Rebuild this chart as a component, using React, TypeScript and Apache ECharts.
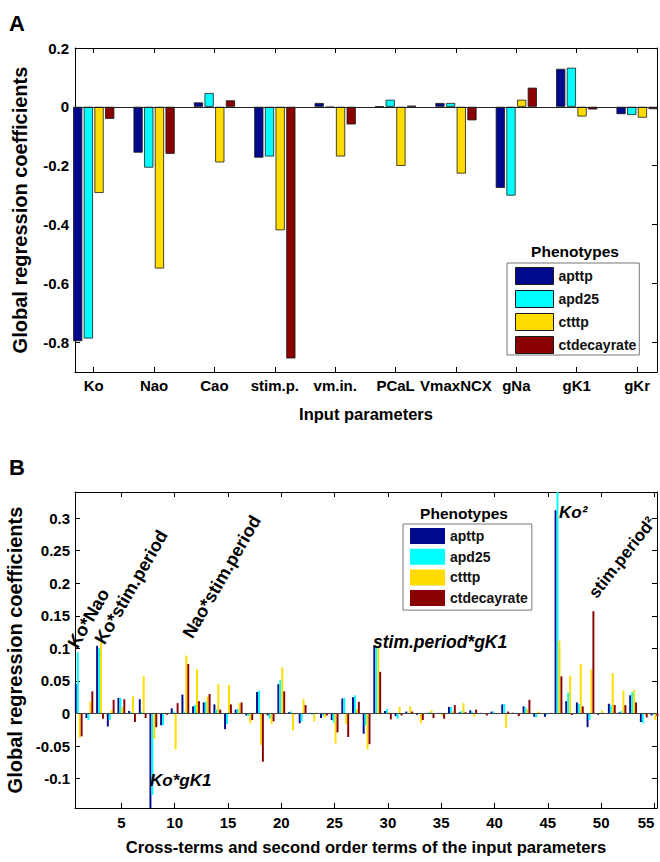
import React, { useEffect, useRef } from 'react';
import * as echarts from 'echarts';

const FONT = '"Liberation Sans", Arial, Helvetica, sans-serif';

// ---------- Panel A data ----------
const catsA = ['Ko', 'Nao', 'Cao', 'stim.p.', 'vm.in.', 'PCaL', 'VmaxNCX', 'gNa', 'gK1', 'gKr'];
const aApttp = [-0.797, -0.156, 0.015, -0.173, 0.013, 0.001, 0.013, -0.276, 0.129, -0.025];
const aApd25 = [-0.788, -0.207, 0.047, -0.169, -0.002, 0.024, 0.013, -0.302, 0.133, -0.028];
const aCtttp = [-0.293, -0.55, -0.189, -0.42, -0.169, -0.201, -0.227, 0.024, -0.033, -0.037];
const aCtdecay = [-0.041, -0.16, 0.022, -0.856, -0.06, 0.004, -0.046, 0.065, -0.009, -0.008];
const yTicksA = [-0.8, -0.6, -0.4, -0.2, 0, 0.2];

// ---------- Panel B data (terms 1..55) ----------
const bApttp = [
  0.045, -0.007, 0.104, -0.02, 0.024, 0.004, 0.022, -0.16, -0.018, 0.008,
  0.029, 0.011, 0.017, 0.014, -0.024, 0.006, -0.003, 0.033, -0.003, 0.045,
  0.002, -0.015, 0.001, -0.007, -0.01, 0.023, 0.025, -0.031, 0.104, 0.004,
  -0.004, 0.003, -0.002, 0.001, 0.001, 0.01, 0.002, 0.005, 0.001, 0.003,
  0.014, 0.001, 0.011, -0.005, -0.005, 0.312, 0.019, 0.017, -0.021, -0.002,
  0.015, 0.002, 0.028, -0.013, -0.003,
];
const bApd25 = [
  0.094, -0.01, 0.1, -0.01, 0.024, 0.002, 0.003, -0.125, -0.018, 0.003,
  0.003, 0.013, 0.018, 0.006, -0.016, 0.007, -0.004, 0.035, -0.008, 0.052,
  0.003, -0.012, -0.002, -0.003, -0.014, 0.024, 0.028, -0.018, 0.103, 0.007,
  -0.008, 0.001, 0.001, 0.002, 0.001, 0.01, 0.004, 0.003, -0.001, 0.003,
  0.015, 0.001, 0.009, -0.006, -0.002, 0.36, 0.032, 0.015, -0.01, 0.001,
  0.013, 0.004, 0.033, -0.015, -0.002,
];
const bCtttp = [
  -0.037, 0.018, 0.109, 0.005, 0.01, 0.026, 0.057, -0.039, 0.001, -0.055,
  0.089, 0.068, 0.026, 0.045, 0.044, 0.016, -0.015, -0.048, -0.016, 0.071,
  -0.026, 0.022, -0.012, -0.006, -0.046, -0.016, 0.007, -0.055, 0.103, 0.002,
  0.01, 0.011, -0.015, 0.005, -0.003, 0.003, 0.016, -0.005, 0.001, 0.001,
  -0.022, 0.0, 0.007, 0.003, 0.001, 0.112, 0.058, 0.076, 0.068, 0.005,
  0.062, 0.035, 0.036, -0.002, -0.01,
];
const bCtdecay = [
  -0.035, 0.034, -0.008, 0.021, 0.022, -0.013, -0.007, -0.021, -0.002, 0.016,
  0.076, 0.019, 0.03, 0.006, 0.014, 0.017, -0.01, -0.074, -0.012, 0.034,
  -0.001, 0.013, 0.001, -0.003, -0.029, -0.036, 0.018, -0.047, 0.064, -0.009,
  -0.003, 0.003, -0.01, -0.007, -0.008, 0.013, 0.002, 0.006, -0.003, -0.001,
  0.003, -0.004, 0.021, 0.001, 0.001, 0.057, -0.002, 0.011, 0.157, 0.001,
  0.013, 0.013, 0.017, -0.006, -0.004,
];
const xTicksB = [5, 10, 15, 20, 25, 30, 35, 40, 45, 50, 55];
const yTicksB = [-0.1, -0.05, 0, 0.05, 0.1, 0.15, 0.2, 0.25, 0.3];

const seriesNames = ['apttp', 'apd25', 'ctttp', 'ctdecayrate'];
const colors = ['#00088C', '#00FFFF', '#FFDC00', '#8A0000'];

const fmt = (v: number) => String(Number(v.toFixed(3)));

export default function App() {
  const ref = useRef<HTMLDivElement>(null);
  useEffect(() => {
    if (!ref.current) return;
    const chart = echarts.init(ref.current, undefined, { renderer: 'svg' });
    const tickLabel = { fontFamily: FONT, fontWeight: 'bold', fontSize: 15, color: '#000' };
    const line = { show: true, onZero: false, lineStyle: { color: '#000', width: 1 } };
    const xTicksA = catsA.map((_, i) => i + 1);

    const aSeriesData = [aApttp, aApd25, aCtttp, aCtdecay];
    const bSeriesData = [bApttp, bApd25, bCtttp, bCtdecay];

    const zeroLine = (color: string) => ({
      silent: true,
      symbol: ['none', 'none'],
      label: { show: false },
      lineStyle: { color, width: 1, type: 'solid' },
      data: [{ yAxis: 0 }],
    });

    const seriesA = seriesNames.map((name, s) => ({
      type: 'bar',
      name,
      xAxisIndex: 0,
      yAxisIndex: 0,
      barWidth: 9.2,
      barGap: '16%',
      clip: true,
      itemStyle: { color: colors[s], borderColor: '#1a1a1a', borderWidth: 0.8 },
      data: catsA.map((_, i) => [i + 1, aSeriesData[s][i]]),
      markLine: s === 0 ? zeroLine('#222') : undefined,
    }));

    const seriesB = seriesNames.map((name, s) => ({
      type: 'bar',
      name,
      xAxisIndex: 2,
      yAxisIndex: 2,
      barWidth: 1.95,
      barGap: '0%',
      clip: true,
      itemStyle: { color: colors[s] },
      data: bSeriesData[s].map((v, i) => [i + 1, v]),
      markLine: s === 0 ? zeroLine('#444') : undefined,
    }));

    const legendBase = {
      orient: 'vertical',
      icon: 'rect',
      backgroundColor: '#fff',
      borderColor: '#777',
      borderWidth: 1,
      selectedMode: false,
      data: seriesNames,
      textStyle: { fontFamily: FONT, fontSize: 14, fontWeight: 'bold', color: '#111' },
    };

    const label = (text: string, x: number, y: number, opts: any = {}) => ({
      type: 'text',
      x,
      y,
      rotation: opts.rotation || 0,
      z: 100,
      style: {
        text,
        font: opts.font || `bold 17px ${FONT}`,
        fill: '#000',
        align: opts.align || 'left',
        verticalAlign: opts.va || 'bottom',
        textAlign: opts.align || 'left',
        textVerticalAlign: opts.va || 'bottom',
      },
    });
    const rot = (60 * Math.PI) / 180;
    const rot2 = (52 * Math.PI) / 180;

    const option: any = {
      animation: false,
      backgroundColor: '#fff',
      grid: [
        { left: 75, top: 48, width: 582, height: 324, outerBoundsMode: 'none', containLabel: false },
        { left: 75, top: 492, width: 582, height: 316, outerBoundsMode: 'none', containLabel: false },
      ],
      xAxis: [
        {
          gridIndex: 0, type: 'value', min: 0.69, max: 10.33, position: 'bottom',
          axisLine: line,
          axisTick: { show: true, inside: true, length: 5, customValues: xTicksA, lineStyle: { color: '#000' } },
          axisLabel: { customValues: xTicksA, formatter: (v: number) => catsA[Math.round(v) - 1] || '', margin: 6, ...tickLabel },
          splitLine: { show: false },
          name: 'Input parameters', nameLocation: 'middle', nameGap: 33,
          nameTextStyle: { fontFamily: FONT, fontWeight: 'bold', fontSize: 16.5, color: '#000' },
        },
        {
          gridIndex: 0, type: 'value', min: 0.69, max: 10.33, position: 'top',
          axisLine: line,
          axisTick: { show: true, inside: true, length: 5, customValues: xTicksA, lineStyle: { color: '#000' } },
          axisLabel: { show: false },
          splitLine: { show: false },
        },
        {
          gridIndex: 1, type: 'value', min: 0.65, max: 55.24, position: 'bottom',
          axisLine: line,
          axisTick: { show: true, inside: true, length: 5, customValues: xTicksB, lineStyle: { color: '#000' } },
          axisLabel: { customValues: xTicksB, formatter: (v: number) => fmt(v), margin: 7, alignMaxLabel: 'right', ...tickLabel },
          splitLine: { show: false },
          name: 'Cross-terms and second order terms of the input parameters', nameLocation: 'middle', nameGap: 31,
          nameTextStyle: { fontFamily: FONT, fontWeight: 'bold', fontSize: 16.6, color: '#000' },
        },
        {
          gridIndex: 1, type: 'value', min: 0.65, max: 55.24, position: 'top',
          axisLine: line,
          axisTick: { show: true, inside: true, length: 5, customValues: xTicksB, lineStyle: { color: '#000' } },
          axisLabel: { show: false },
          splitLine: { show: false },
        },
      ],
      yAxis: [
        {
          gridIndex: 0, type: 'value', min: -0.902, max: 0.2, position: 'left',
          axisLine: line,
          axisTick: { show: true, inside: true, length: 5, customValues: yTicksA, lineStyle: { color: '#000' } },
          axisLabel: { customValues: yTicksA, formatter: (v: number) => fmt(v), margin: 6, ...tickLabel },
          splitLine: { show: false },
          name: 'Global regression coefficients', nameLocation: 'middle', nameGap: 45,
          nameTextStyle: { fontFamily: FONT, fontWeight: 'bold', fontSize: 20, color: '#000' },
        },
        {
          gridIndex: 0, type: 'value', min: -0.902, max: 0.2, position: 'right',
          axisLine: line,
          axisTick: { show: true, inside: true, length: 5, customValues: yTicksA, lineStyle: { color: '#000' } },
          axisLabel: { show: false },
          splitLine: { show: false },
        },
        {
          gridIndex: 1, type: 'value', min: -0.145, max: 0.34, position: 'left',
          axisLine: line,
          axisTick: { show: true, inside: true, length: 5, customValues: yTicksB, lineStyle: { color: '#000' } },
          axisLabel: { customValues: yTicksB, formatter: (v: number) => fmt(v), margin: 5, ...tickLabel },
          splitLine: { show: false },
          name: 'Global regression coefficients', nameLocation: 'middle', nameGap: 47,
          nameTextStyle: { fontFamily: FONT, fontWeight: 'bold', fontSize: 20, color: '#000' },
        },
        {
          gridIndex: 1, type: 'value', min: -0.145, max: 0.34, position: 'right',
          axisLine: line,
          axisTick: { show: true, inside: true, length: 5, customValues: yTicksB, lineStyle: { color: '#000' } },
          axisLabel: { show: false },
          splitLine: { show: false },
        },
      ],
      legend: [
        {
          ...legendBase,
          left: 507, top: 263,
          itemWidth: 38, itemHeight: 17, itemGap: 5,
          padding: [4, 3, 1, 8],
          itemStyle: { borderColor: '#1a1a1a', borderWidth: 1 },
        },
        {
          ...legendBase,
          left: 403, top: 524,
          itemWidth: 35, itemHeight: 16, itemGap: 4.7,
          padding: [4, 4, 4, 7],
          itemStyle: { borderWidth: 0 },
        },
      ],
      graphic: [
        label('A', 9, 23, { font: `bold 22px ${FONT}`, va: 'middle' }),
        label('B', 9, 467, { font: `bold 22px ${FONT}`, va: 'middle' }),
        label('Phenotypes', 575, 251, { font: `bold 15.5px ${FONT}`, align: 'center', va: 'middle' }),
        label('Phenotypes', 464, 513, { font: `bold 15.5px ${FONT}`, align: 'center', va: 'middle' }),
        label('Ko*Nao', 80, 651, { rotation: rot, font: `bold 18px ${FONT}` }),
        label('Ko*stim.period', 107, 647, { rotation: rot, font: `bold 18px ${FONT}` }),
        label('Nao*stim.period', 195, 641, { rotation: rot, font: `bold 18px ${FONT}` }),
        label('stim.period²', 599, 601, { rotation: rot2, font: `bold 17px ${FONT}` }),
        label('Ko*gK1', 150, 780, { font: `italic bold 17px ${FONT}`, va: 'middle' }),
        label('stim.period*gK1', 373, 642, { font: `italic bold 17.5px ${FONT}`, va: 'middle' }),
        label('Ko²', 559, 512, { font: `italic bold 17px ${FONT}`, va: 'middle' }),
      ],
      series: [...seriesA, ...seriesB],
    };

    chart.setOption(option);
    return () => chart.dispose();
  }, []);

  return (
    <div
      ref={ref}
      style={{ position: 'fixed', left: 0, top: 0, width: 660, height: 862, background: '#fff' }}
    />
  );
}
